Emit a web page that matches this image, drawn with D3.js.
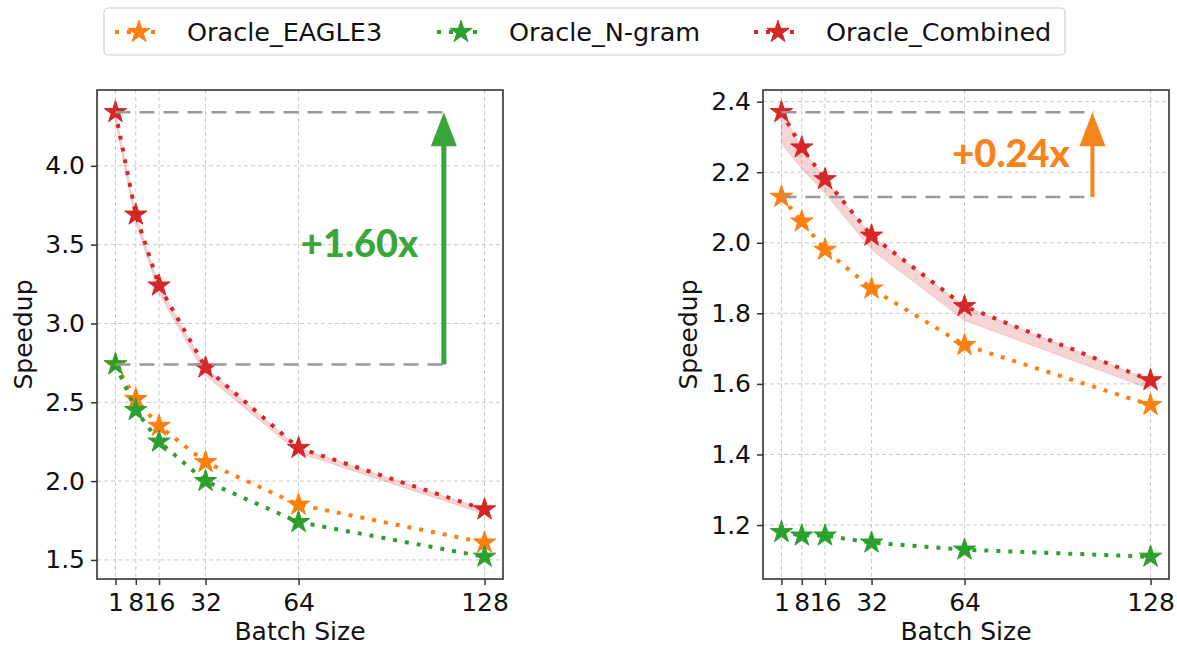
<!DOCTYPE html>
<html>
<head>
<meta charset="utf-8">
<script src="https://cdn.jsdelivr.net/npm/d3@7"></script>
<style>
  body { margin: 0; background: #fff; }
  text { font-family: "DejaVu Sans", sans-serif; fill: #111; }
</style>
</head>
<body>
<svg id="chart" width="1177" height="646"></svg>
<script>
// batch sizes on the x axis (shared by both panels)
const batchSizes = [1, 8, 16, 32, 64, 128]
const seriesNames = ["Oracle_EAGLE3", "Oracle_N-gram", "Oracle_Combined"]
const seriesColors = ["#ff7f0e", "#2ca02c", "#d62728"]

// left panel values
const leftEagle = [2.74, 2.52, 2.35, 2.12, 1.85, 1.61]
const leftNgram = [2.74, 2.45, 2.25, 2.00, 1.74, 1.52]
const leftCombined = [4.34, 3.69, 3.24, 2.72, 2.21, 1.82]
const leftBandLow = [4.28, 3.64, 3.19, 2.67, 2.18, 1.79]
const leftYTicks = [1.5, 2.0, 2.5, 3.0, 3.5, 4.0]

// right panel values
const rightEagle = [2.13, 2.06, 1.98, 1.87, 1.71, 1.54]
const rightNgram = [1.18, 1.17, 1.17, 1.15, 1.13, 1.11]
const rightCombined = [2.37, 2.27, 2.18, 2.02, 1.82, 1.61]
const rightBandLow = [2.28, 2.21, 2.14, 1.98, 1.78, 1.585]
const rightYTicks = [1.2, 1.4, 1.6, 1.8, 2.0, 2.2, 2.4]

// gain annotations: [base, top], label, arrow x (batch units), label position
const gainRanges = [[2.74, 4.34], [2.13, 2.37]]
const gainLabels = ["+1.60x", "+0.24x"]
const gainColors = ["#3aa53a", "#f5841c"]
const gainArrowX = [114, 108]
const gainLabelPos = [[85, 3.42], [80, 2.216]]

const svg = d3.select("#chart")

const panels = [
  { left: 97, right: 503, series: [leftEagle, leftNgram, leftCombined], band: leftBandLow, ticks: leftYTicks, g: 0, labelX: 32 },
  { left: 763, right: 1169, series: [rightEagle, rightNgram, rightCombined], band: rightBandLow, ticks: rightYTicks, g: 1, labelX: 697 }
]
const plotTop = 90, plotBottom = 579
const fontSize = 25

const star = d3.symbol().type(d3.symbolStar).size(155)

panels.forEach(p => {
  const g = svg.append("g")

  const x = d3.scaleLinear().domain([1 - 0.05 * 127, 128 + 0.05 * 127]).range([p.left, p.right])
  const all = p.series.flat().concat(p.band)
  const lo = d3.min(all), hi = d3.max(all), pad = (hi - lo) * 0.05
  const y = d3.scaleLinear().domain([lo - pad, hi + pad]).range([plotBottom, plotTop])

  // grid
  g.append("g").selectAll("line").data(batchSizes).join("line")
    .attr("x1", d => x(d)).attr("x2", d => x(d)).attr("y1", plotTop).attr("y2", plotBottom)
    .attr("stroke", "#c8c8c8").attr("stroke-width", 1).attr("stroke-dasharray", "4,3")
  g.append("g").selectAll("line").data(p.ticks).join("line")
    .attr("y1", d => y(d)).attr("y2", d => y(d)).attr("x1", p.left).attr("x2", p.right)
    .attr("stroke", "#c8c8c8").attr("stroke-width", 1).attr("stroke-dasharray", "4,3")

  // axes
  const xa = g.append("g").attr("transform", `translate(0,${plotBottom})`)
    .call(d3.axisBottom(x).tickValues(batchSizes).tickSize(6).tickPadding(8))
  const ya = g.append("g").attr("transform", `translate(${p.left},0)`)
    .call(d3.axisLeft(y).tickValues(p.ticks).tickFormat(d3.format(".1f")).tickSize(6).tickPadding(6))
  ;[xa, ya].forEach(a => {
    a.select(".domain").remove()
    a.selectAll("line").attr("stroke", "#333").attr("stroke-width", 1.5)
    a.selectAll("text").attr("font-size", fontSize).attr("fill", "#111")
      .attr("font-family", "DejaVu Sans, sans-serif")
  })

  // band under the combined curve
  const bandData = batchSizes.map((b, i) => ({ b, lo: p.band[i], hi: p.series[2][i] }))
  g.append("path").datum(bandData)
    .attr("d", d3.area().x(d => x(d.b)).y0(d => y(d.lo)).y1(d => y(d.hi)))
    .attr("fill", "#d62728").attr("fill-opacity", 0.2)
    .attr("stroke", "#d62728").attr("stroke-opacity", 0.15).attr("stroke-width", 1)

  // series lines + stars
  const line = d3.line().x(d => x(d[0])).y(d => y(d[1]))
  p.series.forEach((vals, si) => {
    const pts = batchSizes.map((b, i) => [b, vals[i]])
    g.append("path").datum(pts).attr("d", line)
      .attr("fill", "none").attr("stroke", seriesColors[si])
      .attr("stroke-width", 4).attr("stroke-dasharray", "4,8")
    g.append("g").selectAll("path").data(pts).join("path")
      .attr("d", star).attr("transform", d => `translate(${x(d[0])},${y(d[1])})`)
      .attr("fill", seriesColors[si]).attr("stroke", seriesColors[si]).attr("stroke-width", 1)
  })

  // frame
  g.append("rect").attr("x", p.left).attr("y", plotTop)
    .attr("width", p.right - p.left).attr("height", plotBottom - plotTop)
    .attr("fill", "none").attr("stroke", "#333").attr("stroke-width", 1.6)

  // gain annotation
  const [base, peak] = gainRanges[p.g]
  const ax = gainArrowX[p.g], col = gainColors[p.g]
  ;[base, peak].forEach(v => {
    g.append("line").attr("x1", x(1)).attr("x2", x(ax + 0.6)).attr("y1", y(v)).attr("y2", y(v))
      .attr("stroke", "#999").attr("stroke-width", 2.5).attr("stroke-dasharray", "15,9")
  })
  const headLen = 34, headW = 13
  g.append("line").attr("x1", x(ax)).attr("x2", x(ax)).attr("y1", y(base)).attr("y2", y(peak) + headLen - 2)
    .attr("stroke", col).attr("stroke-width", p.g === 0 ? 5 : 4)
  g.append("path")
    .attr("d", `M${x(ax)},${y(peak)} L${x(ax) - headW},${y(peak) + headLen} L${x(ax) + headW},${y(peak) + headLen} Z`)
    .attr("fill", col)
  g.append("text").attr("x", x(gainLabelPos[p.g][0])).attr("y", y(gainLabelPos[p.g][1]))
    .attr("text-anchor", "middle").attr("font-size", 38).attr("font-weight", 900)
    .style("font-family", "Lato, 'Open Sans', sans-serif").style("fill", col)
    .text(gainLabels[p.g])

  // axis labels
  g.append("text").attr("x", (p.left + p.right) / 2).attr("y", 640)
    .attr("text-anchor", "middle").attr("font-size", fontSize).text("Batch Size")
  g.append("text").attr("transform", `translate(${p.labelX},${(plotTop + plotBottom) / 2}) rotate(-90)`)
    .attr("text-anchor", "middle").attr("font-size", fontSize).text("Speedup")
})

// legend
const legend = svg.append("g")
legend.append("rect").attr("x", 104).attr("y", 8).attr("width", 961).attr("height", 47)
  .attr("rx", 4).attr("fill", "#fff").attr("stroke", "#d0d0d0").attr("stroke-width", 1.2)
const legendX = [139, 461, 778]
seriesNames.forEach((name, i) => {
  const lg = legend.append("g").attr("transform", `translate(${legendX[i]},32)`)
  lg.append("line").attr("x1", -24).attr("x2", 24).attr("stroke", seriesColors[i])
    .attr("stroke-width", 4).attr("stroke-dasharray", "4,8")
  lg.append("path").attr("d", star).attr("fill", seriesColors[i]).attr("stroke", seriesColors[i])
  lg.append("text").attr("x", 48).attr("y", 9).attr("font-size", 25.5).text(name)
})
</script>
</body>
</html>
